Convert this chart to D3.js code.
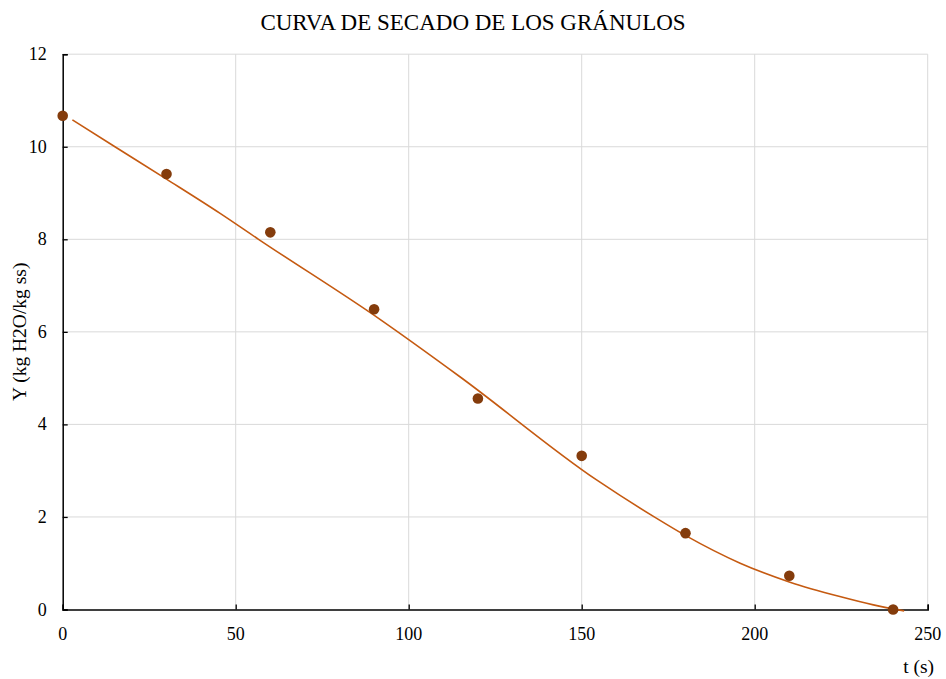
<!DOCTYPE html>
<html>
<head>
<meta charset="utf-8">
<script src="https://cdn.jsdelivr.net/npm/d3@7"></script>
<style>
  html, body { margin: 0; padding: 0; background: #fff; }
</style>
</head>
<body>
<svg id="chart" width="946" height="679"></svg>
<script>
// Drying curve of the granules: moisture content Y versus time t
const timeS = [0, 30, 60, 90, 120, 150, 180, 210, 240];
const moisture = [10.67, 9.41, 8.15, 6.49, 4.56, 3.32, 1.65, 0.73, 0.0];

// Fitted drying curve, sampled along t
const curveT = [2.8, 15.1, 30, 45.5, 56.6, 91.7, 114.8, 154.3, 171.2, 180.2, 195.8, 210.2, 224.6, 234.3, 243.2];
const curveY = [10.58, 10.0, 9.30, 8.56, 8.0, 6.27, 5.03, 2.80, 1.99, 1.59, 1.00, 0.59, 0.28, 0.10, -0.03];

const xTicks = [0, 50, 100, 150, 200, 250];
const yTicks = [0, 2, 4, 6, 8, 10, 12];

const titleText = "CURVA DE SECADO DE LOS GRÁNULOS";
const xTitle = "t (s)";
const yTitle = "Y (kg H2O/kg ss)";

const FONT = "'Liberation Serif', 'Times New Roman', serif";

const svg = d3.select("#chart").attr("font-family", FONT);
const W = 946, H = 679;
const m = { left: 62.7, right: W - 927.7, top: 54.2, bottom: H - 609.5 };

const x = d3.scaleLinear().domain([0, 250]).range([m.left, W - m.right]);
const y = d3.scaleLinear().domain([0, 12]).range([H - m.bottom, m.top]);

// Gridlines
const grid = svg.append("g").attr("stroke", "#d9d9d9").attr("stroke-width", 1);
grid.selectAll("line.h").data(yTicks.filter(d => d > 0)).join("line")
  .attr("x1", x(0)).attr("x2", x(250))
  .attr("y1", d => y(d)).attr("y2", d => y(d));
grid.selectAll("line.v").data(xTicks.filter(d => d > 0)).join("line")
  .attr("y1", y(0)).attr("y2", y(12))
  .attr("x1", d => x(d)).attr("x2", d => x(d));

// Axes with inward ticks
const xAxis = svg.append("g").attr("transform", `translate(0,${y(0)})`)
  .call(d3.axisTop(x).tickValues(xTicks).tickSize(5).tickFormat(""));
const yAxis = svg.append("g").attr("transform", `translate(${x(0)},0)`)
  .call(d3.axisRight(y).tickValues(yTicks).tickSize(5).tickFormat(""));
[xAxis, yAxis].forEach(g => {
  g.selectAll("path").attr("stroke", "#000").attr("stroke-width", 1.5);
  g.selectAll("line").attr("stroke", "#000").attr("stroke-width", 1.3);
});

// Tick labels
svg.append("g").selectAll("text").data(xTicks).join("text")
  .attr("font-family", FONT)
  .attr("x", d => x(d)).attr("y", y(0) + 30)
  .attr("text-anchor", "middle").attr("font-size", 18).attr("fill", "#000")
  .text(d => d);
svg.append("g").selectAll("text").data(yTicks).join("text")
  .attr("font-family", FONT)
  .attr("x", x(0) - 16).attr("y", d => y(d) + 6)
  .attr("text-anchor", "end").attr("font-size", 18).attr("fill", "#000")
  .text(d => d);

// Drying curve
svg.append("path")
  .datum(curveT.map((t, i) => [t, curveY[i]]))
  .attr("fill", "none").attr("stroke", "#c55a11").attr("stroke-width", 1.6)
  .attr("d", d3.line().x(d => x(d[0])).y(d => y(d[1])).curve(d3.curveMonotoneX));

// Measured points
svg.append("g").selectAll("circle").data(timeS).join("circle")
  .attr("cx", d => x(d)).attr("cy", (d, i) => y(moisture[i]))
  .attr("r", 5.3).attr("fill", "#843c0c");

// Titles
svg.append("text").attr("font-family", FONT)
  .attr("x", 473).attr("y", 29.5)
  .attr("text-anchor", "middle").attr("font-size", 23).attr("fill", "#000")
  .text(titleText);
svg.append("text").attr("font-family", FONT)
  .attr("x", 934).attr("y", 673)
  .attr("text-anchor", "end").attr("font-size", 19.5).attr("fill", "#000")
  .text(xTitle);
svg.append("text").attr("font-family", FONT)
  .attr("transform", `translate(26,${(y(0) + y(12)) / 2}) rotate(-90)`)
  .attr("text-anchor", "middle").attr("font-size", 19.5).attr("fill", "#000")
  .text(yTitle);
</script>
</body>
</html>
